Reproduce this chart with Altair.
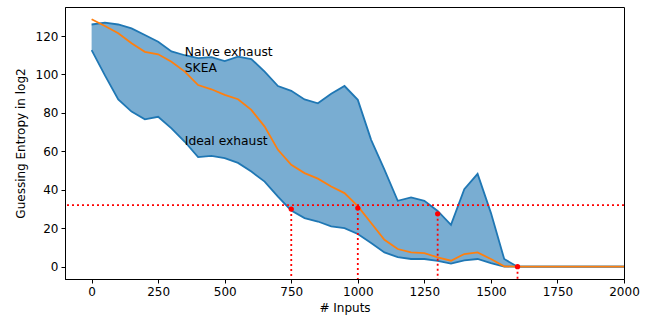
import altair as alt
import pandas as pd

inputs = list(range(0, 2001, 50))
naive = [126, 127, 126, 124, 120.5, 117, 112, 110, 108.5, 109, 107, 109.3, 108, 101.5, 94, 91.5,
         87, 85, 90, 94, 86.8, 66, 50.5, 34.3, 36, 34.3, 29, 21.8, 40.3, 48.3, 28, 4, 0,
         0, 0, 0, 0, 0, 0, 0, 0]
ideal = [112.7, 99.5, 87, 80.7, 76.7, 78, 72, 65, 57, 57.7, 56.5, 54, 49.5, 44.3, 36.5, 29.2,
         25.3, 23.5, 21, 20.1, 17, 12.3, 7.4, 5, 4, 4, 3, 1.6, 3.3, 4, 1.9, 0, 0,
         0, 0, 0, 0, 0, 0, 0, 0]
skea = [128.7, 125.2, 121.4, 116.2, 111.8, 110.5, 106.6, 101.5, 94.5, 92.3, 89.4, 87.1, 81.6, 72.9,
        60.8, 53, 48.7, 45.8, 41.7, 38.3, 31.5, 22.7, 14, 9.2, 7.4, 7.1, 4.8, 3.1, 6.6, 7.4, 4,
        0.2, 0, 0, 0, 0, 0, 0, 0, 0, 0]

threshold = 32
cross_x = [750, 1000, 1300, 1600]
cross_y = [30, 30.5, 27.5, 0]

label_text = ["Naive exhaust", "SKEA", "Ideal exhaust"]
label_x = [350, 350, 350]
label_y = [109.8, 101.5, 63.5]

x_domain = [-100, 2000]
y_domain = [-6.4, 135.1]

df = pd.DataFrame({"x": inputs, "naive": naive, "ideal": ideal, "skea": skea})
pts = pd.DataFrame({"x": cross_x, "y": cross_y})
labs = pd.DataFrame({"t": label_text, "x": label_x, "y": label_y})

FONT = "DejaVu Sans"
BLUE = "#1f77b4"
ORANGE = "#ff7f0e"
RED = "#ff0000"

xs = alt.Scale(domain=x_domain, nice=False, zero=False)
ys = alt.Scale(domain=y_domain, nice=False, zero=False)

xax = alt.Axis(values=list(range(0, 2001, 250)), title="# Inputs", grid=False, format="d",
               labelFlush=False, labelOverlap=False)
yax = alt.Axis(values=list(range(0, 121, 20)), title="Guessing Entropy in log2", grid=False,
               format="d", labelFlush=False, labelOverlap=False)

base = alt.Chart(df)

fill = base.mark_area(color=BLUE, opacity=0.6).encode(
    x=alt.X("x:Q", scale=xs, axis=xax),
    y=alt.Y("naive:Q", scale=ys, axis=yax),
    y2="ideal:Q",
)
l_naive = base.mark_line(color=BLUE, strokeWidth=1.8).encode(
    x=alt.X("x:Q", scale=xs), y=alt.Y("naive:Q", scale=ys))
l_ideal = base.mark_line(color=BLUE, strokeWidth=1.8).encode(
    x=alt.X("x:Q", scale=xs), y=alt.Y("ideal:Q", scale=ys))
l_skea = base.mark_line(color=ORANGE, strokeWidth=1.8).encode(
    x=alt.X("x:Q", scale=xs), y=alt.Y("skea:Q", scale=ys))

hline = alt.Chart(pd.DataFrame({"y": [threshold]})).mark_rule(
    color=RED, strokeWidth=1.8, strokeDash=[2, 3]).encode(
    y=alt.Y("y:Q", scale=ys))

vlines = alt.Chart(pts).mark_rule(color=RED, strokeWidth=1.8, strokeDash=[2, 3]).encode(
    x=alt.X("x:Q", scale=xs),
    y=alt.Y("y:Q", scale=ys),
    y2=alt.datum(y_domain[0]),
)
dots = alt.Chart(pts).mark_circle(color=RED, opacity=1, size=28).encode(
    x=alt.X("x:Q", scale=xs), y=alt.Y("y:Q", scale=ys))

texts = alt.Chart(labs).mark_text(align="left", baseline="alphabetic", font=FONT,
                                  fontSize=12.3, color="black").encode(
    x=alt.X("x:Q", scale=xs), y=alt.Y("y:Q", scale=ys), text="t:N")

chart = alt.layer(fill, l_naive, l_ideal, l_skea, hline, vlines, dots, texts).properties(
    width=559, height=272,
    autosize=alt.AutoSizeParams(type="none"),
    padding={"left": 65, "top": 7, "right": 27, "bottom": 41},
).configure_view(stroke="black", strokeWidth=1).configure_axis(
    labelFont=FONT, titleFont=FONT, labelFontSize=12, titleFontSize=12,
    labelColor="black", titleColor="black", titleFontWeight="normal",
    domainColor="black", tickColor="black", tickSize=4, labelPadding=3,
    domainWidth=1, tickWidth=1,
).configure_axisY(titlePadding=8).configure_axisX(titlePadding=5)

chart.save("out.html", embed_options={"renderer": "svg", "actions": False})
